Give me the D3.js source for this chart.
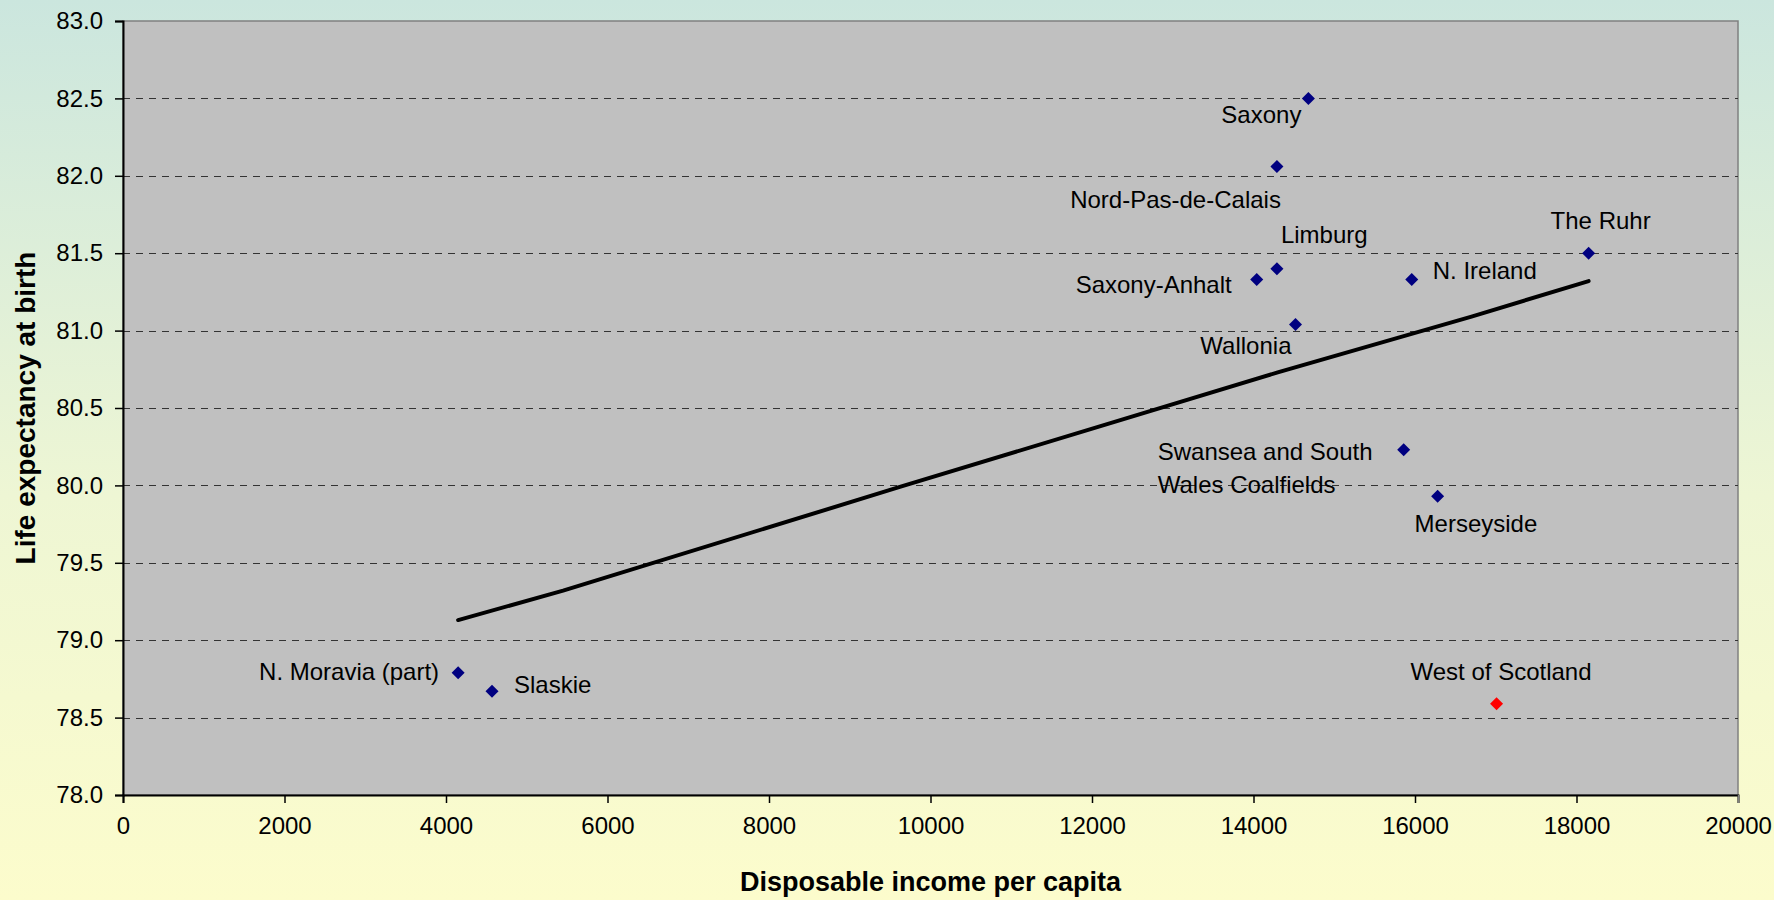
<!DOCTYPE html>
<html>
<head>
<meta charset="utf-8">
<script src="https://d3js.org/d3.v7.min.js"></script>
<style>
  html, body { margin: 0; padding: 0; }
  body { width: 1774px; height: 900px; overflow: hidden; }
  text { font-family: Arial, "Liberation Sans", sans-serif; fill: #000; }
</style>
</head>
<body>
<div id="chart"></div>
<script>

// regions, income (x) and life expectancy (y)
var regions = ["Saxony", "Nord-Pas-de-Calais", "Limburg", "Saxony-Anhalt", "N. Ireland",
  "Wallonia", "Swansea and South Wales Coalfields", "Merseyside", "N. Moravia (part)",
  "Slaskie", "West of Scotland", "The Ruhr"];
var income = [14680, 14290, 14290, 14040, 15960, 14520, 15860, 16280, 4150, 4570, 17010, 18150];
var lifeExp = [82.50, 82.06, 81.40, 81.33, 81.33, 81.04, 80.23, 79.93, 78.79, 78.67, 78.59, 81.50];

// trend line
var trendX = [4150, 5450, 9620, 14300, 16700, 18150];
var trendY = [79.13, 79.32, 79.99, 80.73, 81.09, 81.32];

var xTicks = [0, 2000, 4000, 6000, 8000, 10000, 12000, 14000, 16000, 18000, 20000];
var yTicks = [78.0, 78.5, 79.0, 79.5, 80.0, 80.5, 81.0, 81.5, 82.0, 82.5, 83.0];

var highlight = "West of Scotland";

// label placement relative to its point: [dx, dy, anchor]
var labelPos = {
  "Saxony": [-7, 25, "end"],
  "Nord-Pas-de-Calais": [4, 41, "end"],
  "Limburg": [4, -26, "start"],
  "Saxony-Anhalt": [-25, 13, "end"],
  "N. Ireland": [21, -1, "start"],
  "Wallonia": [-4, 30, "end"],
  "Swansea and South Wales Coalfields": [-246, 10, "start"],
  "Merseyside": [-23, 36, "start"],
  "N. Moravia (part)": [-19, 7, "end"],
  "Slaskie": [22, 2, "start"],
  "West of Scotland": [-86, -24, "start"],
  "The Ruhr": [-38, -24, "start"]
};

var W = 1774, H = 900;
var m = {left: 123, right: 36, top: 21, bottom: 105};

var svg = d3.select("#chart").append("svg").attr("width", W).attr("height", H);

var defs = svg.append("defs");
var grad = defs.append("linearGradient").attr("id", "bg")
  .attr("x1", 0).attr("y1", 0).attr("x2", 0).attr("y2", 1);
grad.append("stop").attr("offset", "0%").attr("stop-color", "#cbe6de");
grad.append("stop").attr("offset", "55%").attr("stop-color", "#eef6d4");
grad.append("stop").attr("offset", "100%").attr("stop-color", "#fcfccc");

svg.append("rect").attr("width", W).attr("height", H).attr("fill", "url(#bg)");

var x = d3.scaleLinear().domain([0, 20000]).range([m.left, W - m.right]);
var y = d3.scaleLinear().domain([78, 83]).range([H - m.bottom, m.top]);

// plot area
svg.append("rect")
  .attr("x", x(0)).attr("y", y(83))
  .attr("width", x(20000) - x(0)).attr("height", y(78) - y(83))
  .attr("fill", "#c0c0c0").attr("stroke", "#808080").attr("stroke-width", 1.5);

// dashed gridlines
svg.append("g").selectAll("line").data(yTicks.filter(function(d){ return d > 78 && d < 83; }))
  .enter().append("line")
  .attr("x1", x(0)).attr("x2", x(20000))
  .attr("y1", function(d){ return Math.round(y(d)) + 0.5; })
  .attr("y2", function(d){ return Math.round(y(d)) + 0.5; })
  .attr("stroke", "#333").attr("stroke-width", 1)
  .attr("stroke-dasharray", "7,6");

// axes
var yAxis = d3.axisLeft(y).tickValues(yTicks).tickFormat(d3.format(".1f")).tickSize(8).tickPadding(12);
var gy = svg.append("g").attr("transform", "translate(" + x(0) + ",0)").call(yAxis);
var xAxis = d3.axisBottom(x).tickValues(xTicks).tickFormat(d3.format("d")).tickSize(8).tickPadding(14);
var gx = svg.append("g").attr("transform", "translate(0," + y(78) + ")").call(xAxis);

[gx, gy].forEach(function(g){
  g.select(".domain").attr("stroke", "#000").attr("stroke-width", 2);
  g.selectAll(".tick line").attr("stroke", "#000").attr("stroke-width", 1.5);
  g.selectAll(".tick text").attr("font-size", 24).attr("font-family", "Arial, 'Liberation Sans', sans-serif").attr("fill", "#000");
});
gx.selectAll(".tick").filter(function(d){ return d === 20000; }).select("line").attr("stroke", "#808080");

// trend line
var trend = trendX.map(function(d, i){ return [d, trendY[i]]; });
svg.append("path").datum(trend)
  .attr("d", d3.line().x(function(d){ return x(d[0]); }).y(function(d){ return y(d[1]); }))
  .attr("fill", "none").attr("stroke", "#000").attr("stroke-width", 4)
  .attr("stroke-linecap", "round").attr("stroke-linejoin", "round");

// points
var pts = regions.map(function(r, i){ return {name: r, x: income[i], y: lifeExp[i]}; });
var diamond = d3.symbol().type(d3.symbolDiamond2).size(108);

svg.append("g").selectAll("path").data(pts).enter().append("path")
  .attr("d", diamond)
  .attr("transform", function(d){ return "translate(" + x(d.x) + "," + y(d.y) + ")"; })
  .attr("fill", function(d){ return d.name === highlight ? "#ff0000" : "#000080"; });

// labels
var labels = svg.append("g").selectAll("text").data(pts).enter().append("text")
  .attr("font-size", 24)
  .attr("text-anchor", function(d){ return labelPos[d.name][2]; })
  .attr("x", function(d){ return x(d.x) + labelPos[d.name][0]; })
  .attr("y", function(d){ return y(d.y) + labelPos[d.name][1]; });

labels.each(function(d){
  var t = d3.select(this);
  if (d.name === "Swansea and South Wales Coalfields") {
    t.append("tspan").text("Swansea and South");
    t.append("tspan").attr("x", t.attr("x")).attr("dy", 33).text("Wales Coalfields");
  } else {
    t.text(d.name);
  }
});

// axis titles
svg.append("text")
  .attr("x", (x(0) + x(20000)) / 2).attr("y", 891)
  .attr("text-anchor", "middle").attr("font-size", 27).attr("font-weight", "bold")
  .text("Disposable income per capita");

svg.append("text")
  .attr("transform", "translate(35," + (y(78) + y(83)) / 2 + ") rotate(-90)")
  .attr("text-anchor", "middle").attr("font-size", 28).attr("font-weight", "bold")
  .text("Life expectancy at birth");

</script>
</body>
</html>
